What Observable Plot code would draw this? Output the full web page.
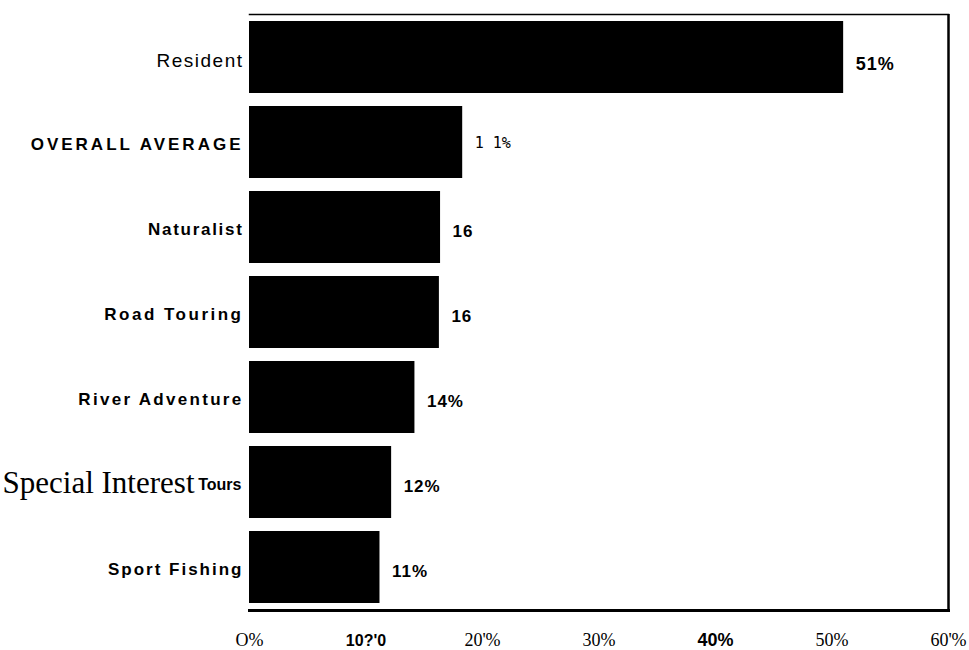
<!DOCTYPE html>
<html><head><meta charset="utf-8">
<script src="https://cdn.jsdelivr.net/npm/d3@7"></script>
<script src="https://cdn.jsdelivr.net/npm/@observablehq/plot@0.6"></script>
<style>body{margin:0;background:#fff}</style>
</head><body><div id="chart"></div>
<script>
const categories = ["Resident","OVERALL AVERAGE","Naturalist","Road Touring","River Adventure","Special Interest Tours","Sport Fishing"];
const values = [51, 18.3, 16.4, 16.3, 14.2, 12.2, 11.2];
const valueLabels = ["51%","1 1%","16","16","14%","12%","11%"];
const tickValues = [0,10,20,30,40,50,60];
const tickLabels = ["O%","10?'0","20'%","30%","40%","50%","60'%"];

const data = categories.map((c,i)=>({category:c, value:values[i], label:valueLabels[i]}));
const ticks = tickValues.map((v,i)=>({v, label:tickLabels[i]}));
const sans = "'Liberation Sans', Arial, Helvetica, sans-serif";
const narrow = "'Liberation Sans Narrow', 'Arial Narrow', 'Liberation Sans', sans-serif";
const serif = "'Liberation Serif', 'Times New Roman', serif";
const mono = "'DejaVu Sans Mono', monospace";

const yLab = {y:"category", frameAnchor:"left", textAnchor:"end", dx:-6, dy:2, fill:"#000"};
const vLab = {x:"value", y:"category", textAnchor:"start", dx:12, dy:4, fill:"#000"};
const tLab = {x:"v", text:"label", frameAnchor:"bottom", dy:35, fill:"#000"};

const plot = Plot.plot({
  width: 969, height: 650,
  marginLeft: 249, marginRight: 21, marginTop: 14, marginBottom: 40,
  x: {domain:[0,60], axis:null},
  y: {domain:categories, axis:null, paddingInner:0.15, paddingOuter:0.05},
  style: {background:"#fff", color:"#000"},
  marks: [
    Plot.barX(data, {x:"value", y:"category", fill:"#000"}),
    Plot.frame({anchor:"top", strokeWidth:1.5}),
    Plot.frame({anchor:"bottom", strokeWidth:3}),
    Plot.ruleX([60], {strokeWidth:2.5}),
    // category labels
    Plot.text(data.filter(d=>d.category==="Resident"), {...yLab, dy:3, text:"category", fontFamily:sans, fontSize:19}),
    Plot.text(data.filter(d=>!["Resident","Special Interest Tours"].includes(d.category)), {...yLab, text:"category", fontFamily:sans, fontWeight:"bold", fontSize:17}),
    Plot.text(data.filter(d=>d.category==="Special Interest Tours"), {...yLab, dx:-8, text:()=>"Tours", fontFamily:sans, fontWeight:"bold", fontSize:16}),
    Plot.text(data.filter(d=>d.category==="Special Interest Tours"), {...yLab, dx:-55, dy:1, text:()=>"Special Interest", fontFamily:serif, fontSize:31}),
    // value labels
    Plot.text(data.filter(d=>d.label==="51%"), {...vLab, dy:7, text:"label", fontFamily:sans, fontWeight:"bold", fontSize:18}),
    Plot.text(data.filter(d=>d.label!=="1 1%" && d.label!=="51%"), {...vLab, text:"label", fontFamily:sans, fontWeight:"bold", fontSize:17}),
    Plot.text(data.filter(d=>d.label==="1 1%"), {...vLab, dy:1, text:"label", fontFamily:mono, fontSize:15}),
    // tick labels
    Plot.text(ticks.filter(d=>d.v!==10 && d.v!==40), {...tLab, fontFamily:serif, fontSize:18}),
    Plot.text(ticks.filter(d=>d.v===10), {...tLab, fontFamily:narrow, fontWeight:"bold", fontSize:16}),
    Plot.text(ticks.filter(d=>d.v===40), {...tLab, fontFamily:sans, fontWeight:"bold", fontSize:18})
  ]
});
const spacing = {"Resident":1.5,"OVERALL AVERAGE":3,"Naturalist":1.7,"Road Touring":2.5,"River Adventure":2.3,"Sport Fishing":2,"51%":1,"16":1,"14%":1,"12%":1,"11%":1};
d3.select(plot).selectAll("text").each(function(){
  const t = this.textContent;
  if (spacing[t] != null) this.setAttribute("letter-spacing", spacing[t]);
});
document.getElementById("chart").appendChild(plot);
</script>
</body></html>
